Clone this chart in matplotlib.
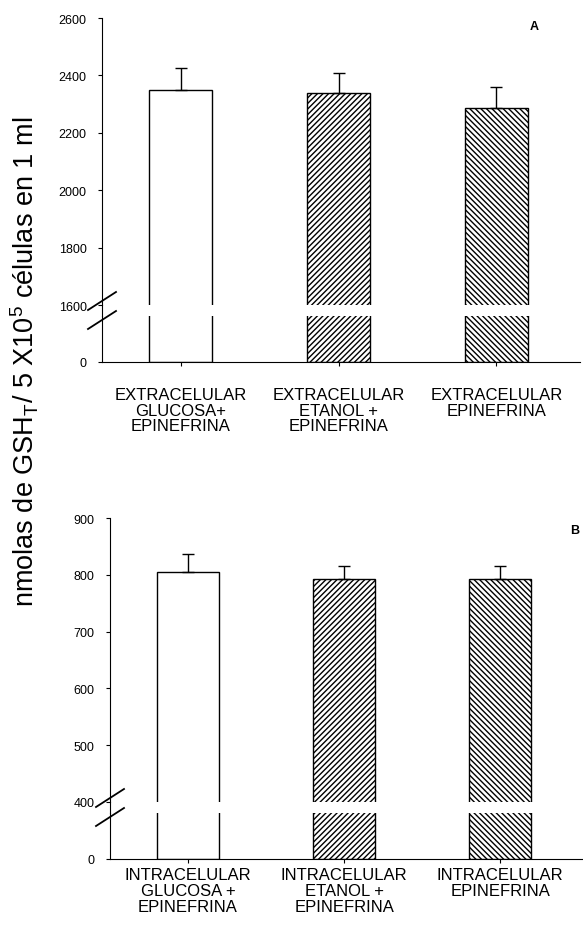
import numpy as np
import matplotlib
matplotlib.use("Agg")
import matplotlib.pyplot as plt
from matplotlib.lines import Line2D

plt.rcParams["font.family"] = ["Liberation Sans", "DejaVu Sans"]
plt.rcParams["hatch.linewidth"] = 1.0

# Panel A: extracellular
labels_a = ["EXTRACELULAR\nGLUCOSA+\nEPINEFRINA",
            "EXTRACELULAR\nETANOL +\nEPINEFRINA",
            "EXTRACELULAR\nEPINEFRINA"]
means_a = [2350, 2340, 2285]
errs_a = [75, 68, 75]
ticks_a = [1600, 1800, 2000, 2200, 2400, 2600]

# Panel B: intracellular
labels_b = ["INTRACELULAR\nGLUCOSA +\nEPINEFRINA",
            "INTRACELULAR\nETANOL +\nEPINEFRINA",
            "INTRACELULAR\nEPINEFRINA"]
means_b = [805, 792, 792]
errs_b = [32, 23, 23]
ticks_b = [400, 500, 600, 700, 800, 900]

hatches = ["", "//////", "\\\\\\\\\\\\"]

W, H = 583, 929
fig = plt.figure(figsize=(W / 100, H / 100), dpi=100)


def px(x0, y_top, x1, y_bot):
    # pixel box -> figure fraction rect
    return [x0 / W, 1 - y_bot / H, (x1 - x0) / W, (y_bot - y_top) / H]


def broken_panel(top_rect, low_rect, means, errs, labels, ticks, low_max, label_pad, letter, letter_xy):
    ax_top = fig.add_axes(top_rect)
    ax_low = fig.add_axes(low_rect, sharex=ax_top)
    x = np.arange(len(means))
    for ax in (ax_top, ax_low):
        bars = ax.bar(x, means, width=0.40, color="white", edgecolor="black", linewidth=1.0)
        for p, h in zip(bars, hatches):
            p.set_hatch(h)
        ax.spines["top"].set_visible(False)
        ax.spines["right"].set_visible(False)
        ax.tick_params(axis="y", direction="out", length=3, width=0.8, labelsize=9, pad=8)
    ax_top.errorbar(x, means, yerr=[[0] * len(errs), errs], fmt="none",
                    ecolor="black", elinewidth=1.0, capsize=4, capthick=1.0)

    ax_top.set_ylim(ticks[0], ticks[-1])
    ax_top.set_yticks(ticks)
    ax_top.spines["bottom"].set_visible(False)
    ax_top.tick_params(axis="x", bottom=False, labelbottom=False)

    ax_low.set_ylim(0, low_max)
    ax_low.set_yticks([0])
    ax_low.set_xlim(-0.5, 2.53)
    ax_low.set_xticks(x)
    ax_low.set_xticklabels(labels, fontsize=12, linespacing=1.05)
    ax_low.tick_params(axis="x", direction="out", length=3, width=0.8, pad=label_pad)

    # spine continuing through the gap
    p_top = ax_top.get_position()
    p_low = ax_low.get_position()
    fig.add_artist(Line2D([p_low.x0, p_low.x0], [p_low.y1, p_top.y0],
                          transform=fig.transFigure, color="black", lw=0.8))
    # break marks
    dx, dy = 14 / W, 9 / H
    for yc in (p_top.y0 + 4 / H, p_low.y1 - 4 / H):
        fig.add_artist(Line2D([p_top.x0 - dx, p_top.x0 + dx], [yc - dy, yc + dy],
                              transform=fig.transFigure, color="black", lw=1.3))
    fig.text(letter_xy[0] / W, 1 - letter_xy[1] / H, letter, fontsize=9,
             fontweight="bold", ha="center", va="center")
    return ax_top, ax_low


broken_panel(px(102, 19, 580, 306), px(102, 317, 580, 363),
             means_a, errs_a, labels_a, ticks_a, 160, 15, "A", (534, 27))
broken_panel(px(110, 519, 583, 803), px(110, 814, 583, 860),
             means_b, errs_b, labels_b, ticks_b, 80, 3, "B", (575, 531))

fig.text(25 / W, 1 - 362 / H,
         r"nmolas de GSH$_\mathregular{T}$/ 5 X10$^\mathregular{5}$ células en 1 ml",
         rotation=90, fontsize=19.5, ha="center", va="center")

fig.savefig("out.png", dpi=100)
